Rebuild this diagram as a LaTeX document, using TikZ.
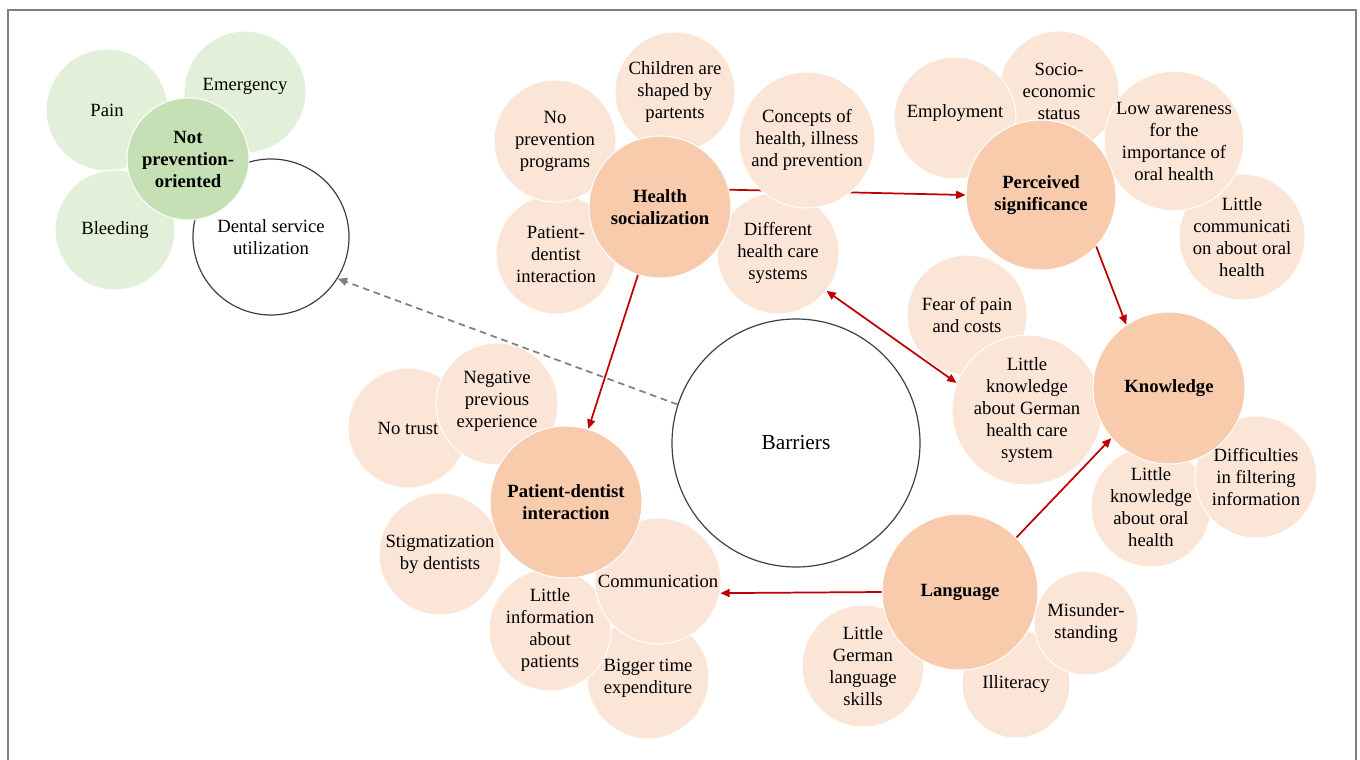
\documentclass[tikz,border=0pt]{standalone}
\usepackage{fontspec}
\setmainfont{Liberation Serif}
\usepackage{tikz}
\usetikzlibrary{arrows.meta}

\definecolor{lightpeach}{RGB}{251,229,214}
\definecolor{darkpeach}{RGB}{248,203,173}
\definecolor{lightgreen}{RGB}{226,240,217}
\definecolor{darkgreen}{RGB}{197,224,180}
\definecolor{arrowred}{RGB}{192,0,0}
\definecolor{framegray}{RGB}{128,128,128}

\tikzset{
  bub/.style={circle, fill=lightpeach, draw=white, line width=0.75pt, inner sep=0pt,
    minimum size=#1*1.5pt, align=center, font=\fontsize{14}{16.5}\selectfont},
  bub/.default=61,
  core/.style={bub=#1, fill=darkpeach, font=\fontsize{14}{16.5}\selectfont\bfseries},
  core/.default=76,
  gbub/.style={bub=#1, fill=lightgreen},
  gbub/.default=61,
  gcore/.style={core=#1, fill=darkgreen},
  gcore/.default=61,
  ring/.style={circle, fill=white, draw={rgb,255:red,64;green,64;blue,64}, line width=0.9pt,
    inner sep=0pt, minimum size=#1*1.5pt, align=center, font=\fontsize{14}{16.5}\selectfont},
  redarrow/.style={draw=arrowred, line width=1.3pt, -{Triangle[length=7pt,width=6pt]}},
  dasharrow/.style={draw=framegray, line width=1.3pt, dash pattern=on 5pt off 3.5pt,
    -{Triangle[length=7pt,width=6pt]}}
}

\begin{document}
\begin{tikzpicture}[x=0.75pt,y=0.75pt,yscale=-1,xscale=1]
        \useasboundingbox (0,0) rectangle (1360,760);

        %Frame
        \draw [color=framegray, line width=1.5pt] (7.5,765) -- (7.5,9.5) -- (1355.5,9.5) -- (1355.5,765) ;

        %Shape: Circle - dental service utilization
        \node [ring=78] (dental) at (271,237) {Dental service\\utilization};
        %Shape: Circle - not prevention-oriented
        \node [gbub] (pain) at (107,110) {Pain};
        \node [gbub] (emerg) at (245,92) {Emergency\\[-4.5pt]};
        \node [gbub=60] (bleed) at (115,230) {Bleeding};
        \node [gcore] (notprev) at (188,159) {Not\\prevention-\\oriented};

        %Shape: Circle - health socialization
        \node [bub=60] (pdsmall) at (556,254) {Patient-\\dentist\\interaction};
        \node [bub] (noprev) at (555,141) {No\\prevention\\programs};
        \node [bub=60] (children) at (675,92) {Children are\\shaped by\\partents};
        \node [bub] (diffsys) at (778,253) {Different\\health care\\systems};
        \node [core=71] (healthsoc) at (660,207) {Health\\socialization};

        %Shape: Circle - perceived significance
        \node [bub] (littlecomm) at (1242,237) {Little\\communicati\\on about oral\\health};
        \node [bub=60] (socio) at (1059,91) {Socio-\\economic\\status};
        \node [bub] (employ) at (955,118) {Employment\\[-6pt]};
        \node [bub=69] (lowaware) at (1174,141) {Low awareness\\for the\\importance of\\oral health};
        \node [core=75] (perceived) at (1041,195) {Perceived\\significance};

        %Shape: Circle - knowledge
        \node [bub=60] (fear) at (967,315) {Fear of pain\\and costs};
        \node [bub=75] (lkgerman) at (1027,410) {Little\\knowledge\\about German\\health care\\system};
        \node [bub=60] (lkoral) at (1151,507) {Little\\knowledge\\about oral\\health};
        \node [bub] (difficult) at (1256,477) {Difficulties\\in filtering\\information};
        \node [core] (knowledge) at (1169,388) {Knowledge};

        %Shape: Circle - language
        \node [bub] (lgskills) at (863,666) {Little\\German\\language\\skills};
        \node [bub=54] (illit) at (1016,684) {Illiteracy};
        \node [bub=52] (misund) at (1086,623) {Misunder-\\standing};
        \node [core=78] (language) at (960,592) {Language};

        %Shape: Circle - patient-dentist interaction
        \node [bub=60] (notrust) at (408,428) {No trust};
        \node [bub] (negexp) at (497,404) {Negative\\previous\\experience\\[-9pt]};
        \node [bub] (stigma) at (440,554) {Stigmatization\\by dentists};
        \node [bub] (bigtime) at (648,678) {Bigger time\\expenditure};
        \node [bub] (littleinfo) at (550,630) {Little\\information\\about\\patients};
        \node [bub=63] (comm) at (658,581) {Communication};
        \node [core] (patdent) at (566,502) {Patient-dentist\\interaction};

        %Shape: Circle - barriers
        \node [ring=124, font=\fontsize{16}{19}\selectfont] (barriers) at (796,443) {Barriers};

        %Straight Lines
        \draw [redarrow] (healthsoc.14) -- (perceived.west) ;
        \draw [redarrow] (perceived.-43) -- (knowledge.124) ;
        \draw [redarrow] (healthsoc.-108) -- (patdent.73) ;
        \draw [redarrow] (language.west) -- (comm.-11) ;
        \draw [redarrow] (language.44) -- (knowledge.221) ;
        \draw [redarrow, {Triangle[length=7pt,width=6pt]}-{Triangle[length=7pt,width=6pt]}] (diffsys.-38) -- (lkgerman.159) ;
        \draw [dasharrow] (barriers.162) -- (dental.-32) ;

        %Shape: Circle - drawn over the arrow
        \node [bub=68] (concepts) at (807,140) {Concepts of\\health, illness\\and prevention};

\end{tikzpicture}
\end{document}
